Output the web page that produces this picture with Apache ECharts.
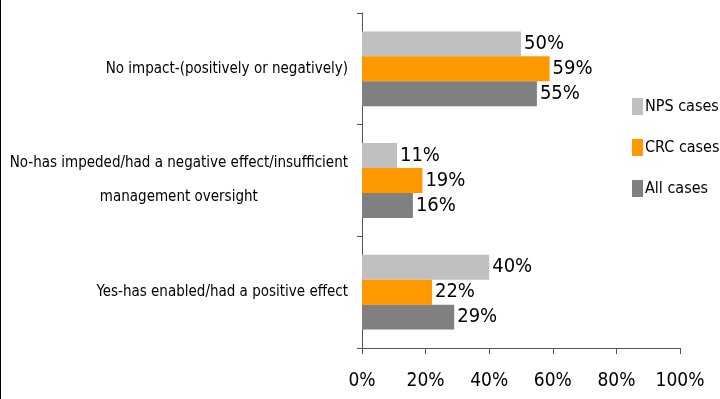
<!DOCTYPE html>
<html>
<head>
<meta charset="utf-8">
<script src="https://cdn.jsdelivr.net/npm/echarts@6/dist/echarts.min.js"></script>
<style>
  html, body { margin: 0; padding: 0; background: #fff; }
  #chart { width: 720px; height: 399px; }
</style>
</head>
<body>
<div id="chart"></div>
<script>
// Survey answers, listed top to bottom
const categories = [
  'No impact-(positively or negatively)',
  'No-has impeded/had a negative effect/insufficient\nmanagement oversight',
  'Yes-has enabled/had a positive effect'
];
const seriesNames = ['NPS cases', 'CRC cases', 'All cases'];
const npsCases = [50, 11, 40];
const crcCases = [59, 19, 22];
const allCases = [55, 16, 29];
const xTicks = [0, 20, 40, 60, 80, 100];

const FONT = "'Liberation Sans Narrow', 'DejaVu Sans Condensed', 'Arial Narrow', sans-serif";
const colors = ['#C0C0C0', '#FF9900', '#808080'];

const chart = echarts.init(document.getElementById('chart'));

function barSeries(name, data, color) {
  return {
    name: name,
    type: 'bar',
    data: data,
    barGap: '0%',
    barCategoryGap: '33%',
    itemStyle: { color: color },
    label: {
      show: true,
      position: 'right',
      distance: 3,
      formatter: '{c}%',
      color: '#000',
      fontFamily: FONT,
      fontSize: 20
    }
  };
}

chart.setOption({
  animation: false,
  backgroundColor: '#fff',
  grid: { left: 362, right: 40, top: 13, bottom: 51, containLabel: false, outerBoundsMode: 'none' },
  legend: {
    orient: 'vertical',
    left: 632,
    top: 98,
    padding: 0,
    itemWidth: 11,
    itemHeight: 17,
    itemGap: 24,
    icon: 'rect',
    textStyle: { fontFamily: FONT, fontSize: 16, color: '#000', padding: [0, 0, 0, -3] },
    data: seriesNames
  },
  xAxis: {
    type: 'value',
    min: xTicks[0],
    max: xTicks[xTicks.length - 1],
    interval: 20,
    axisLine: { show: true, lineStyle: { color: '#555', width: 1 } },
    axisTick: { show: true, length: 6, lineStyle: { color: '#555' } },
    splitLine: { show: false },
    axisLabel: {
      margin: 24,
      formatter: '{value}%',
      fontFamily: FONT,
      fontSize: 19,
      color: '#000'
    }
  },
  yAxis: {
    type: 'category',
    inverse: true,
    data: categories,
    axisLine: { show: true, lineStyle: { color: '#555', width: 1 } },
    axisTick: { show: true, length: 5, lineStyle: { color: '#555' } },
    axisLabel: {
      margin: 14,
      fontFamily: FONT,
      fontSize: 15,
      color: '#000',
      lineHeight: 34,
      formatter: function (v) {
        return v.split('\n').map(function (s) { return '{c|' + s + '}'; }).join('\n');
      },
      rich: { c: { align: 'center', fontFamily: FONT, fontSize: 15, lineHeight: 34, color: '#000' } }
    }
  },
  graphic: [{
    type: 'line',
    shape: { x1: 0.5, y1: 0, x2: 0.5, y2: 399 },
    style: { stroke: '#000', lineWidth: 1 }
  }],
  series: [
    barSeries(seriesNames[0], npsCases, colors[0]),
    barSeries(seriesNames[1], crcCases, colors[1]),
    barSeries(seriesNames[2], allCases, colors[2])
  ]
});
</script>
</body>
</html>
